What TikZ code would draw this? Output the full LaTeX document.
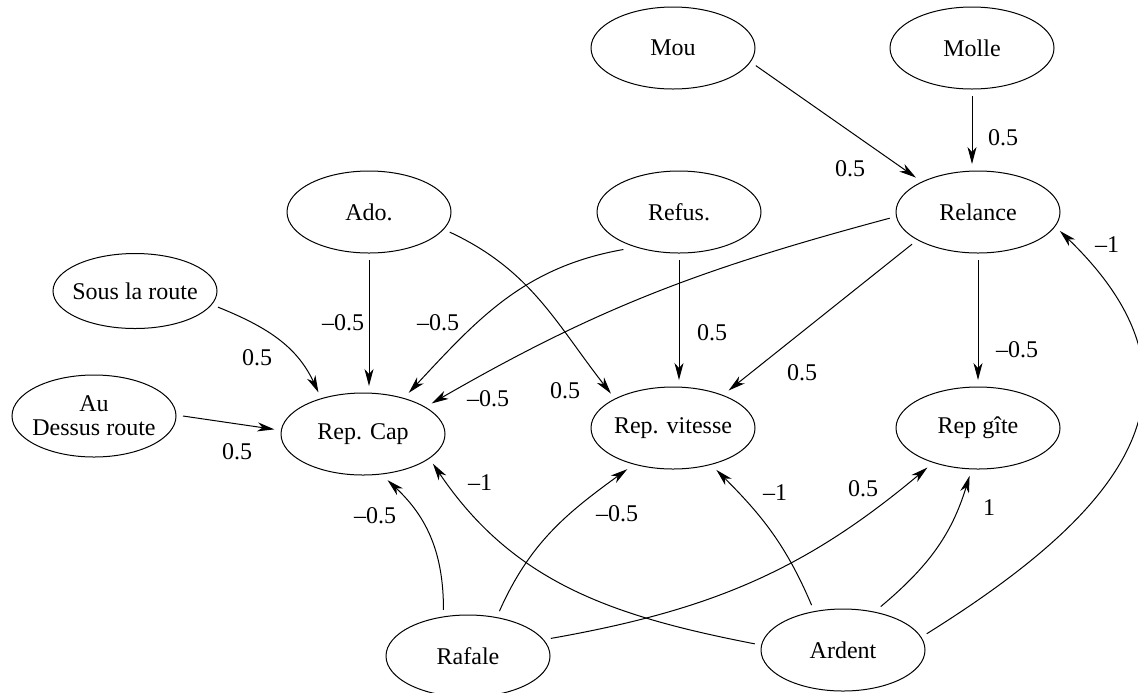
\documentclass[tikz,border=0pt]{standalone}
\usepackage{fontspec}
\setmainfont{Liberation Serif}
\usetikzlibrary{arrows.meta,shapes.geometric}

\tikzset{
  var/.style={draw,ellipse,minimum width=82pt,minimum height=41pt,
    inner xsep=-4pt,inner ysep=0pt,outer sep=3.5pt,align=center,
    font=\fontsize{12}{12}\selectfont},
  wt/.style={inner sep=0pt,font=\fontsize{12}{12}\selectfont},
}

\begin{document}
\begin{tikzpicture}[x=0.5pt,y=-0.5pt,line width=0.5pt,
    >={Stealth[length=8.5pt,width=4.5pt,inset=2.5pt]}]
  \useasboundingbox (0,0) rectangle (1138,692);
  % variables
  \node[var] (mou) at (673,48) {Mou};
  \node[var] (molle) at (972,48) {Molle};
  \node[var] (ado) at (369,212) {Ado.};
  \node[var] (refus) at (679,212) {Refus.};
  \node[var] (relance) at (978,212) {Relance};
  \node[var,minimum height=37.5pt] (sous) at (135,291) {Sous la route};
  \node[var] (au) at (94,416) {Au\\Dessus route};
  \node[var] (repcap) at (363,434) {Rep. Cap};
  \node[var] (repvit) at (673,428) {Rep. vitesse};
  \node[var] (repgite) at (978,428) {Rep gîte};
  \node[var] (rafale) at (468,656) {Rafale};
  \node[var] (ardent) at (843,650) {Ardent};

  % influences
  \draw[->] (mou.-12) -- (relance.151);
  \draw[->] (molle.south) -- (molle.south |- relance.north);
  \draw[->] (ado.south) -- (ado.south |- repcap.north);
  \draw[->] (refus.south) -- (refus.south |- repvit.north);
  \draw[->] (relance) -- (repgite);
  \draw[->] (relance.206) -- (repvit.34);
  \draw[->] (relance.184) to[out=195,in=30] (repcap.24);
  \draw[->] (refus.214) to[out=190,in=47] (repcap.42);
  \draw[->] (ado.-14) to[out=-25,in=128] (repvit.151);
  \draw[->] (sous.-11) to[out=-22,in=115] (repcap.137);
  \draw[->] (au.0) -- (repcap.177);
  \draw[->] (rafale.118) to[out=90,in=-43] (repcap.-62);
  \draw[->] (rafale.55) to[out=66,in=-144] (repvit.-138);
  \draw[->] (rafale.12) to[out=10,in=-140] (repgite.-142);
  \draw[->] (ardent.176) to[out=169,in=-56] (repcap.-23);
  \draw[->] (ardent.125) to[out=113,in=-45] (repvit.-44);
  \draw[->] (ardent.49) to[out=40,in=-107] (repgite.-100);
  \draw[->] (ardent.11) to[out=32,in=-44,looseness=1.38] (relance.-13);

  % weights
  \node[wt] (w1) at (850,169) {0.5};
  \node[wt] (w2) at (1003,138) {0.5};
  \node[wt] (w3) at (343,323) {--0.5};
  \node[wt] (w4) at (438,323) {--0.5};
  \node[wt] (w5) at (488,399) {--0.5};
  \node[wt] (w6) at (565,391) {0.5};
  \node[wt] (w7) at (712,333) {0.5};
  \node[wt] (w8) at (802,373) {0.5};
  \node[wt] (w9) at (1017,350) {--0.5};
  \node[wt] (w10) at (1107,245) {--1};
  \node[wt] (w11) at (257,358) {0.5};
  \node[wt] (w12) at (237,452) {0.5};
  \node[wt] (w13) at (480,483) {--1};
  \node[wt] (w14) at (375,516) {--0.5};
  \node[wt] (w15) at (617,514) {--0.5};
  \node[wt] (w16) at (775,493) {--1};
  \node[wt] (w17) at (863,489) {0.5};
  \node[wt] (w18) at (989,508) {1};
\end{tikzpicture}
\end{document}
